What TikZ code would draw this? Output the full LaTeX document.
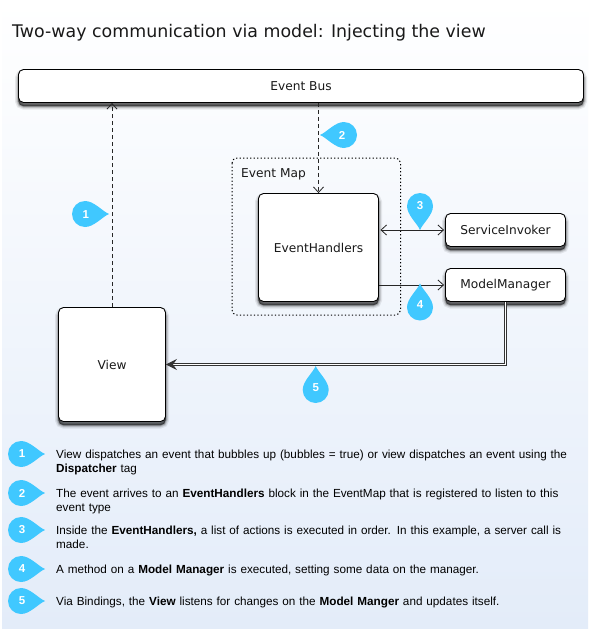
\documentclass[tikz,border=0pt]{standalone}
\usepackage{fontspec}
\setmainfont{Liberation Sans}
\newfontfamily\diagfont{DejaVu Sans}
\usetikzlibrary{arrows.meta}
\definecolor{dropblue}{HTML}{40C8FF}
\definecolor{bgbottom}{HTML}{E3ECF9}
\newcommand{\boxlabel}[1]{\raisebox{-1pt}{#1}}
\tikzset{
  box/.style={draw=black,line width=.9pt,fill=white,rounded corners=5pt,inner sep=0pt,
    font=\diagfont\fontsize{12.2}{14}\selectfont,text=black!90,
    preaction={draw=black,fill=black,opacity=.08,line width=7pt,transform canvas={yshift=-3.5pt}},
    preaction={draw=black,fill=black,opacity=.12,line width=4.5pt,transform canvas={yshift=-3.5pt}},
    preaction={draw=black,fill=black,opacity=.18,line width=2.5pt,transform canvas={yshift=-3.5pt}},
    preaction={draw=black,fill=black,opacity=.3,line width=.8pt,transform canvas={yshift=-3.5pt}}},
  openarrow/.style={line width=.8pt,draw=black!85,-{Straight Barb[length=5.5pt,width=10pt,line width=.8pt]}},
  dashline/.style={openarrow,dash pattern=on 4pt off 3pt},
  legendtext/.style={anchor=north west,inner sep=0pt,align=left,text width=525pt,
    font=\fontsize{11.72}{14}\selectfont,text=black},
  dropnum/.style={inner sep=0pt,text=white,font=\bfseries\fontsize{11.5}{13}\selectfont}
}
% #1 name, #2 x, #3 y, #4 rotation, #5 number, #6 number dx, #7 number dy
\newcommand{\teardrop}[7]{%
  \begin{scope}[shift={(#2,#3)},x=1pt,y=1pt]
    \fill[dropblue,rotate=#4] (24,0) .. controls (17,3) and (9,13) .. (0,13)
      arc[start angle=90,end angle=270,radius=13pt]
      .. controls (9,-13) and (17,-3) .. (24,0) -- cycle;
    \node[dropnum] (#1) at (#6,#7) {#5};
  \end{scope}}
\begin{document}
\begin{tikzpicture}[x=1pt,y=-1pt]
\useasboundingbox (0,0) rectangle (594,629);
\fill[white] (0,0) rectangle (594,629);
\shade[top color=white,bottom color=bgbottom] (2,0) rectangle (588,628);

\node[anchor=base west,inner sep=0pt,font=\diagfont\fontsize{17.4}{20}\selectfont,text=black!90] (title) at (12,37.5) {Two-way communication via model: Injecting the view};

\node[box,minimum width=565pt,minimum height=33pt] (bus) at (301,86) {\boxlabel{Event Bus}};

\draw[line width=1pt,dash pattern=on 1.3pt off 2.2pt,draw=black,rounded corners=5pt] (232,158) rectangle (400.5,315);
\node[anchor=base west,inner sep=0pt,font=\diagfont\fontsize{12.2}{14}\selectfont,text=black!90] (maplabel) at (241,177) {Event Map};

\node[box,minimum width=120pt,minimum height=108pt] (eh) at (318.5,247.5) {\boxlabel{EventHandlers}};
\node[box,minimum width=120pt,minimum height=33pt] (si) at (505.5,230) {\boxlabel{ServiceInvoker}};
\node[box,minimum width=120pt,minimum height=33pt] (mm) at (505.5,285) {\boxlabel{ModelManager}};
\node[box,minimum width=107pt,minimum height=114pt] (view) at (112,364.5) {\boxlabel{View}};

\draw[dashline] (view.north) -- (view.north |- bus.south);
\draw[dashline] (eh.north |- bus.south) -- (eh.north);
\draw[openarrow,{Straight Barb[length=5.5pt,width=10pt,line width=.8pt]}-{Straight Barb[length=5.5pt,width=10pt,line width=.8pt]},shorten <=1.5pt,shorten >=1pt] (si.west -| eh.east) -- (si.west);
\draw[openarrow,shorten >=1pt] (mm.west -| eh.east) -- (mm.west);
\draw[line width=.9pt,double=white,double distance=1.1pt,draw=black!80,-{Stealth[length=11pt,width=11pt,inset=4pt]}] (mm.south) -- (mm.south |- view.east) -- (view.east);

\teardrop{d1}{85}{214}{0}{1}{.7}{-.5}
\teardrop{d2}{344}{135}{180}{2}{-2}{0}
\teardrop{d3}{420}{206}{-90}{3}{0}{0}
\teardrop{d4}{420}{307.5}{90}{4}{0}{2.5}
\teardrop{d5}{315.7}{390}{90}{5}{0}{2.3}

\teardrop{l1}{21}{454}{0}{1}{1}{0}
\teardrop{l2}{21}{493}{0}{2}{1}{0}
\teardrop{l3}{21}{530}{0}{3}{1}{0}
\teardrop{l4}{21}{569}{0}{4}{1}{0}
\teardrop{l5}{21}{601}{0}{5}{1}{0}

\node[legendtext] (t1) at (56,449.5) {View dispatches an event that bubbles up (bubbles = true) or view dispatches an event using the\\\textbf{Dispatcher} tag};
\node[legendtext] (t2) at (56,488.5) {The event arrives to an \textbf{EventHandlers} block in the EventMap that is registered to listen to this\\event type};
\node[legendtext] (t3) at (56,525.5) {Inside the \textbf{EventHandlers,} a list of actions is executed in order. In this example, a server call is\\made.};
\node[legendtext] (t4) at (56,564.5) {A method on a \textbf{Model Manager} is executed, setting some data on the manager.};
\node[legendtext] (t5) at (56,596.5) {Via Bindings, the \textbf{View} listens for changes on the \textbf{Model Manger} and updates itself.};
\end{tikzpicture}
\end{document}
